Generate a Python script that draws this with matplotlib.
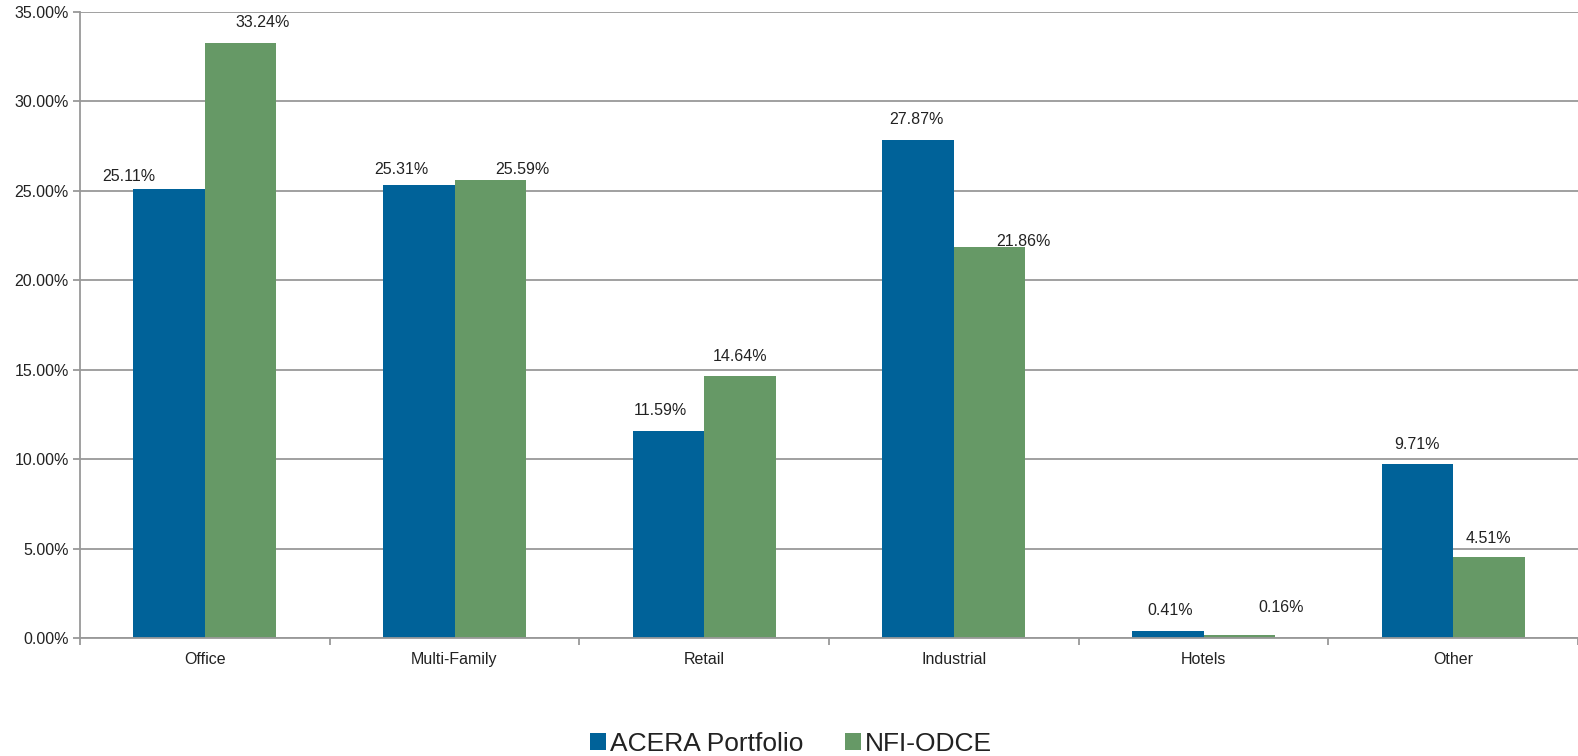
import numpy as np
import matplotlib.pyplot as plt
from matplotlib.ticker import FuncFormatter, MultipleLocator, FixedLocator

plt.rcParams['font.family'] = ['Liberation Sans', 'DejaVu Sans']

# 数据
categories = ['Office', 'Multi-Family', 'Retail', 'Industrial', 'Hotels', 'Other']
acera = [25.11, 25.31, 11.59, 27.87, 0.41, 9.71]
nfi = [33.24, 25.59, 14.64, 21.86, 0.16, 4.51]
series_names = ['ACERA Portfolio', 'NFI-ODCE']

# 标签偏移 (像素)
acera_dx = [-40, -17, -8, -2, 2, 0]
acera_dy = [12, 16, 20, 20, 20, 20]
nfi_dx = [22, 32, 0, 34, 42, 0]
nfi_dy = [21, 11, 20, 6, 28, 19]

blue = '#006299'
green = '#669966'
grid_c = '#999999'
text_c = '#222222'

fig = plt.figure(figsize=(15.78, 7.56), dpi=100)
ax = fig.add_axes([80 / 1578, 118 / 756, 1498 / 1578, 626 / 756])

x = np.arange(len(categories))
w = 0.286
b1 = ax.bar(x - w / 2, acera, width=w, color=blue, label=series_names[0], zorder=3)
b2 = ax.bar(x + w / 2, nfi, width=w, color=green, label=series_names[1], zorder=3)

# 数值标签
for rect, v, dx, dy in zip(b1, acera, acera_dx, acera_dy):
    ax.annotate(f'{v:.2f}%', (rect.get_x() + rect.get_width() / 2, v),
                xytext=(dx, dy), textcoords='offset pixels',
                ha='center', va='center', fontsize=11.5, color=text_c)
for rect, v, dx, dy in zip(b2, nfi, nfi_dx, nfi_dy):
    ax.annotate(f'{v:.2f}%', (rect.get_x() + rect.get_width() / 2, v),
                xytext=(dx, dy), textcoords='offset pixels',
                ha='center', va='center', fontsize=11.5, color=text_c)

ax.set_xlim(-0.5, len(categories) - 0.5)
ax.set_ylim(0, 35)
ax.yaxis.set_major_locator(MultipleLocator(5))
ax.yaxis.set_major_formatter(FuncFormatter(lambda v, p: f'{v:.2f}%'))
ax.grid(axis='y', color=grid_c, linewidth=1.3, zorder=0)

# x轴：类别标签居中，刻度线在类别之间
ax.xaxis.set_major_locator(FixedLocator(np.arange(-0.5, len(categories), 1.0)))
ax.xaxis.set_major_formatter(FuncFormatter(lambda v, p: ''))
ax.xaxis.set_minor_locator(FixedLocator(x))
ax.set_xticks(x, categories, minor=True)
ax.tick_params(axis='x', which='major', length=5, width=1.3, color=grid_c)
ax.tick_params(axis='x', which='minor', length=0, pad=10, labelsize=11.5, labelcolor=text_c)
ax.tick_params(axis='y', length=5, width=1.3, color=grid_c, labelsize=11.5,
               labelcolor=text_c, pad=3)

for s in ['top', 'right']:
    ax.spines[s].set_visible(False)
for s in ['left', 'bottom']:
    ax.spines[s].set_color(grid_c)
    ax.spines[s].set_linewidth(1.3)
ax.spines['bottom'].set_zorder(4)

fig.legend(handles=[b1, b2], loc='center', bbox_to_anchor=(791 / 1578, 1 - 744 / 756),
           ncol=2, frameon=False, fontsize=19, handlelength=0.6, handleheight=0.6,
           handletextpad=0.15, columnspacing=1.6, labelcolor=text_c)

fig.savefig('out.png', dpi=100)
